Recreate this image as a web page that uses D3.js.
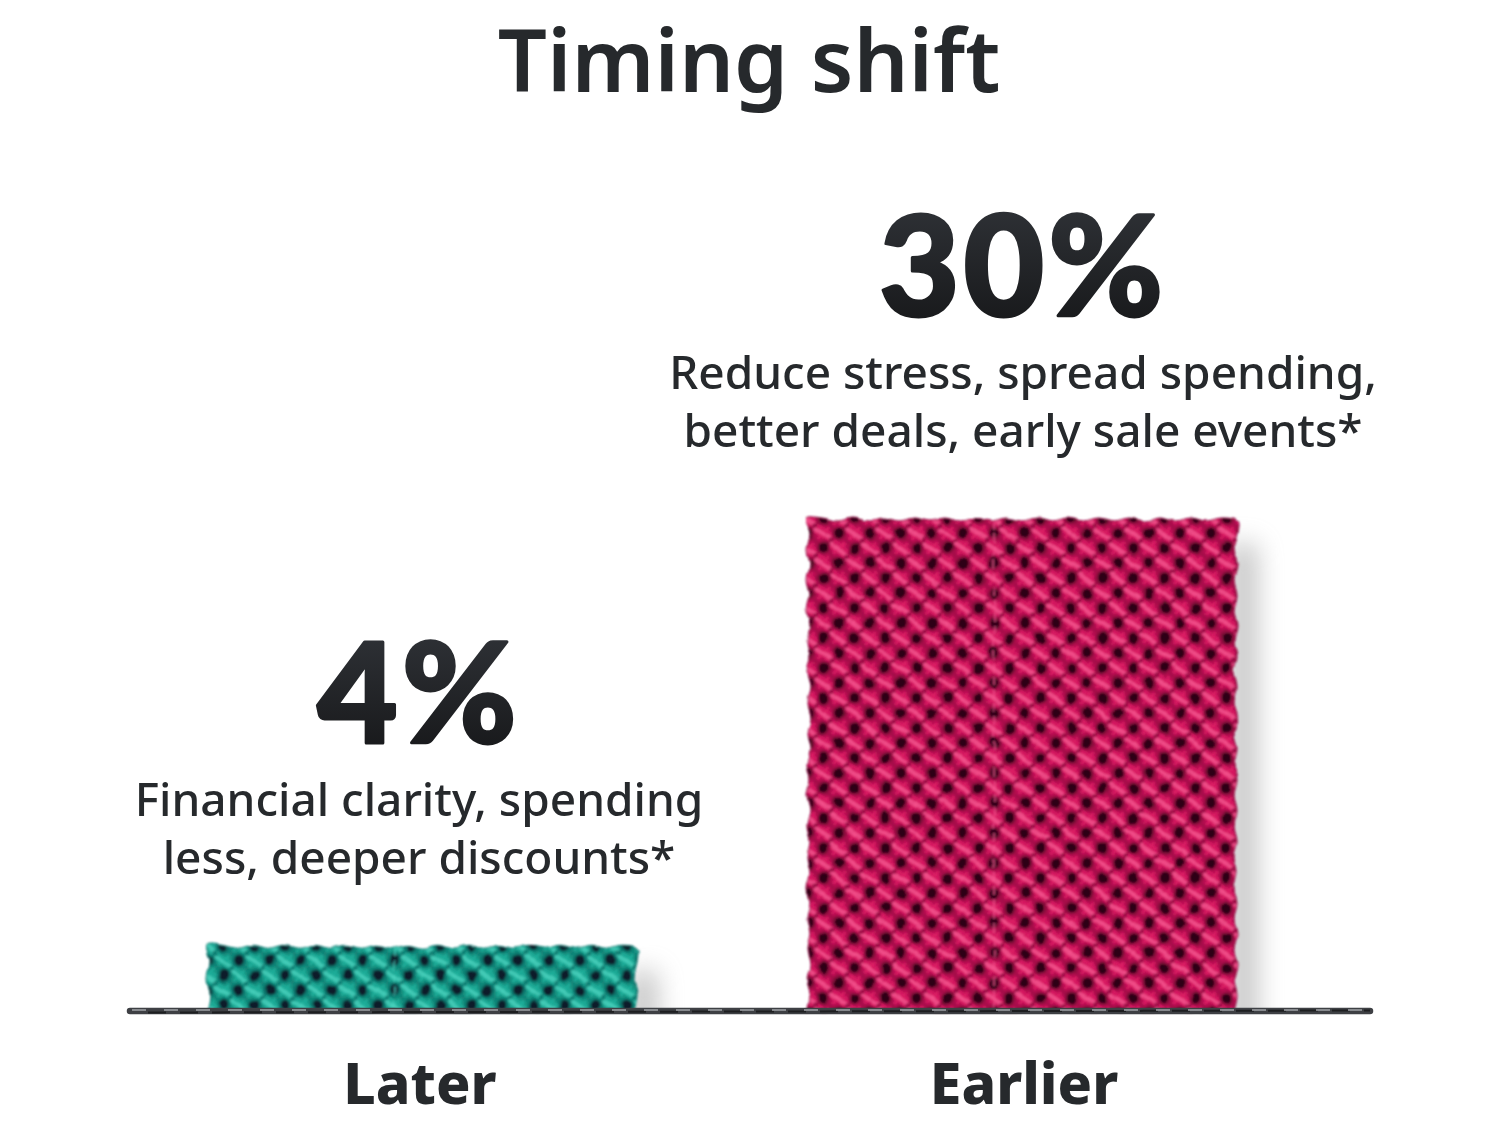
<!DOCTYPE html>
<html>
<head>
<meta charset="utf-8">
<script src="https://cdn.jsdelivr.net/npm/d3@7"></script>
<style>
  html, body { margin: 0; padding: 0; background: #fff; }
  svg { display: block; }
  text { font-family: "Noto Sans", sans-serif; fill: #26292c; text-anchor: middle; }
</style>
</head>
<body>
<div id="chart"></div>
<script>
// chart data
var categories = ["Later", "Earlier"];
var values = [4, 30];
var valueLabels = ["4%", "30%"];
var notes = [
  ["Financial clarity, spending", "less, deeper discounts*"],
  ["Reduce stress, spread spending,", "better deals, early sale events*"]
];
var title = "Timing shift";

// yarn colours: base, hole, halo, mid strand, highlight
var yarnColors = [
  ["#12917f", "#0d1f2b", "#0c6f68", "#1fae9a", "#4ad4bf"],
  ["#b60e50", "#2e0619", "#8c0a3d", "#dc1a64", "#f7548f"]
];

var width = 1500, height = 1140;
var baseY = 1011;

var svg = d3.select("#chart").append("svg")
  .attr("width", width).attr("height", height);
var defs = svg.append("defs");

var x = d3.scaleBand().domain(categories).range([207, 1237]).paddingInner(0.2833);
var y = d3.scaleLinear().domain([0, 30]).range([baseY, 518]);

var tileW = 31, tileH = 30;

// one knit tile, stitches crossing between the holes
function makeTile(id, colors, px, py) {
  var p = defs.append("pattern").attr("id", id)
    .attr("patternUnits", "userSpaceOnUse")
    .attr("x", px).attr("y", py)
    .attr("width", tileW).attr("height", tileH);
  p.append("rect").attr("width", tileW).attr("height", tileH).attr("fill", colors[0]);

  var holes = [[0, tileH / 2], [tileW, tileH / 2], [tileW / 2, 0], [tileW / 2, tileH]];

  var centers = [[tileW / 2, tileH / 2], [0, 0], [tileW, 0], [0, tileH], [tileW, tileH]];
  centers.forEach(function(c) {
    // under strand  /
    [-2.4, 0, 2.4].forEach(function(o, i) {
      p.append("line")
        .attr("x1", c[0] + 7 + o).attr("y1", c[1] - 7 + o)
        .attr("x2", c[0] - 7 + o).attr("y2", c[1] + 7 + o)
        .attr("stroke", i == 1 ? colors[3] : colors[0])
        .attr("stroke-width", 2.4).attr("stroke-linecap", "round");
    });
    // top strand  \
    [-2.8, -1.4, 0, 1.4, 2.8].forEach(function(o, i) {
      p.append("line")
        .attr("x1", c[0] - 7.5 + o).attr("y1", c[1] - 5 - o)
        .attr("x2", c[0] + 7.5 + o).attr("y2", c[1] + 5 - o)
        .attr("stroke", i == 2 || i == 1 ? colors[4] : colors[3])
        .attr("stroke-width", 1.7).attr("stroke-linecap", "round");
    });
  });

  // dips between neighbouring stitches
  [[0.25, 0.25], [0.75, 0.25], [0.25, 0.75], [0.75, 0.75]].forEach(function(d) {
    p.append("circle").attr("cx", d[0] * tileW).attr("cy", d[1] * tileH).attr("r", 2.6)
      .attr("fill", colors[2]).attr("opacity", 0.6);
  });

  holes.forEach(function(h) {
    p.append("ellipse").attr("cx", h[0]).attr("cy", h[1]).attr("rx", 7.5).attr("ry", 7.5)
      .attr("fill", colors[2]).attr("opacity", 0.85);
    p.append("ellipse").attr("cx", h[0]).attr("cy", h[1]).attr("rx", 4.6).attr("ry", 5.2)
      .attr("fill", colors[1]);
  });
}

defs.append("filter").attr("id", "soft").attr("x", "-100%").attr("width", "300%")
  .attr("y", "-30%").attr("height", "160%")
  .append("feGaussianBlur").attr("stdDeviation", 13);

// a little unevenness so the knit doesn't look machine drawn
var photo = defs.append("filter").attr("id", "photo")
  .attr("filterUnits", "userSpaceOnUse")
  .attr("x", 0).attr("y", 0).attr("width", width).attr("height", height);
photo.append("feTurbulence").attr("type", "fractalNoise")
  .attr("baseFrequency", 0.05).attr("numOctaves", 2).attr("seed", 4).attr("result", "noise");
photo.append("feDisplacementMap").attr("in", "SourceGraphic").attr("in2", "noise")
  .attr("scale", 5).attr("xChannelSelector", "R").attr("yChannelSelector", "G").attr("result", "moved");
photo.append("feGaussianBlur").attr("in", "moved").attr("stdDeviation", 0.8);

defs.append("clipPath").attr("id", "aboveBase").append("rect")
  .attr("width", width).attr("height", baseY);

var numberFill = defs.append("linearGradient").attr("id", "numberFill")
  .attr("gradientUnits", "objectBoundingBox")
  .attr("x1", 0).attr("x2", 0).attr("y1", 0.1).attr("y2", 0.9);
numberFill.append("stop").attr("offset", 0).attr("stop-color", "#303338");
numberFill.append("stop").attr("offset", 1).attr("stop-color", "#17181a");

// wavy outline for a bar
function barPath(x0, x1, y0, y1) {
  var pts = [];
  var nx = Math.round((x1 - x0) / tileW), ny = Math.round((y1 - y0) / tileH);
  for (var i = 0; i <= ny * 2; i++) pts.push([x0 + (i % 2 ? 3 : 0), y1 - (y1 - y0) * i / (ny * 2)]);
  for (i = 1; i <= nx * 2; i++) pts.push([x0 + (x1 - x0) * i / (nx * 2), y0 + (i % 2 ? 0 : 3)]);
  for (i = 1; i <= ny * 2; i++) pts.push([x1 - (i % 2 ? 0 : 3), y0 + (y1 - y0) * i / (ny * 2)]);
  return d3.line().curve(d3.curveCatmullRom)(pts) + "Z";
}

var shadows = svg.append("g").attr("clip-path", "url(#aboveBase)");
var bars = svg.append("g").attr("filter", "url(#photo)");

categories.forEach(function(c, i) {
  var x0 = x(c), x1 = x(c) + x.bandwidth(), y0 = y(values[i]), y1 = y(0);
  var mid = x0 + x.bandwidth() / 2;
  makeTile("knit" + i, yarnColors[i], x0 + 1, y0);

  shadows.append("rect")
    .attr("x", x1 - 8).attr("y", y0 + 26)
    .attr("width", 28).attr("height", y1 - y0 + 20)
    .attr("fill", "#8b8b8b").attr("opacity", 0.5)
    .attr("filter", "url(#soft)");

  bars.append("path")
    .attr("d", barPath(x0, x1, y0, y1))
    .attr("fill", "url(#knit" + i + ")")
    .attr("stroke", yarnColors[i][2])
    .attr("stroke-width", 1);

  // the seam where two strips of knit meet
  bars.append("line")
    .attr("x1", x0 + x.bandwidth() * 0.435).attr("x2", x0 + x.bandwidth() * 0.435)
    .attr("y1", y0 + 3).attr("y2", y1)
    .attr("stroke", yarnColors[i][4]).attr("stroke-width", 2.6)
    .attr("stroke-dasharray", "9 4").attr("opacity", 0.6);

  // big value
  svg.append("text")
    .attr("x", mid + (i == 0 ? -3 : 1))
    .attr("y", y0 - 202)
    .style("font-family", "Lato, sans-serif")
    .attr("font-size", 139).attr("font-weight", 900)
    .attr("letter-spacing", 4)
    .style("fill", "url(#numberFill)")
    .style("stroke", "url(#numberFill)")
    .style("stroke-width", 3).style("stroke-linejoin", "round")
    .text(valueLabels[i]);

  // reasons
  notes[i].forEach(function(line, j) {
    svg.append("text")
      .attr("x", mid + (i == 0 ? -3 : 1))
      .attr("y", y0 - 129 + j * 57.5)
      .attr("font-size", 46).attr("font-weight", 500)
      .text(line);
  });

  // category
  svg.append("text")
    .attr("x", mid + (i == 0 ? -2 : 2))
    .attr("y", 1104)
    .attr("font-size", 57).attr("font-weight", 800)
    .text(c);
});

// baseline: a dark twisted cord
svg.append("line")
  .attr("x1", 130).attr("x2", 1370).attr("y1", baseY).attr("y2", baseY)
  .attr("stroke", "#3e4044").attr("stroke-width", 6.5).attr("stroke-linecap", "round");
svg.append("line")
  .attr("x1", 148).attr("x2", 1370).attr("y1", baseY + 1.5).attr("y2", baseY - 0.5)
  .attr("stroke", "#1d1e20").attr("stroke-width", 2)
  .attr("stroke-dasharray", "18 14");
svg.append("line")
  .attr("x1", 132).attr("x2", 1370).attr("y1", baseY - 1).attr("y2", baseY - 1)
  .attr("stroke", "#a0a3a7").attr("stroke-width", 1.6)
  .attr("stroke-dasharray", "14 18");

svg.append("text")
  .attr("x", 749).attr("y", 92)
  .attr("font-size", 86.5).attr("font-weight", 600)
  .text(title);
</script>
</body>
</html>
